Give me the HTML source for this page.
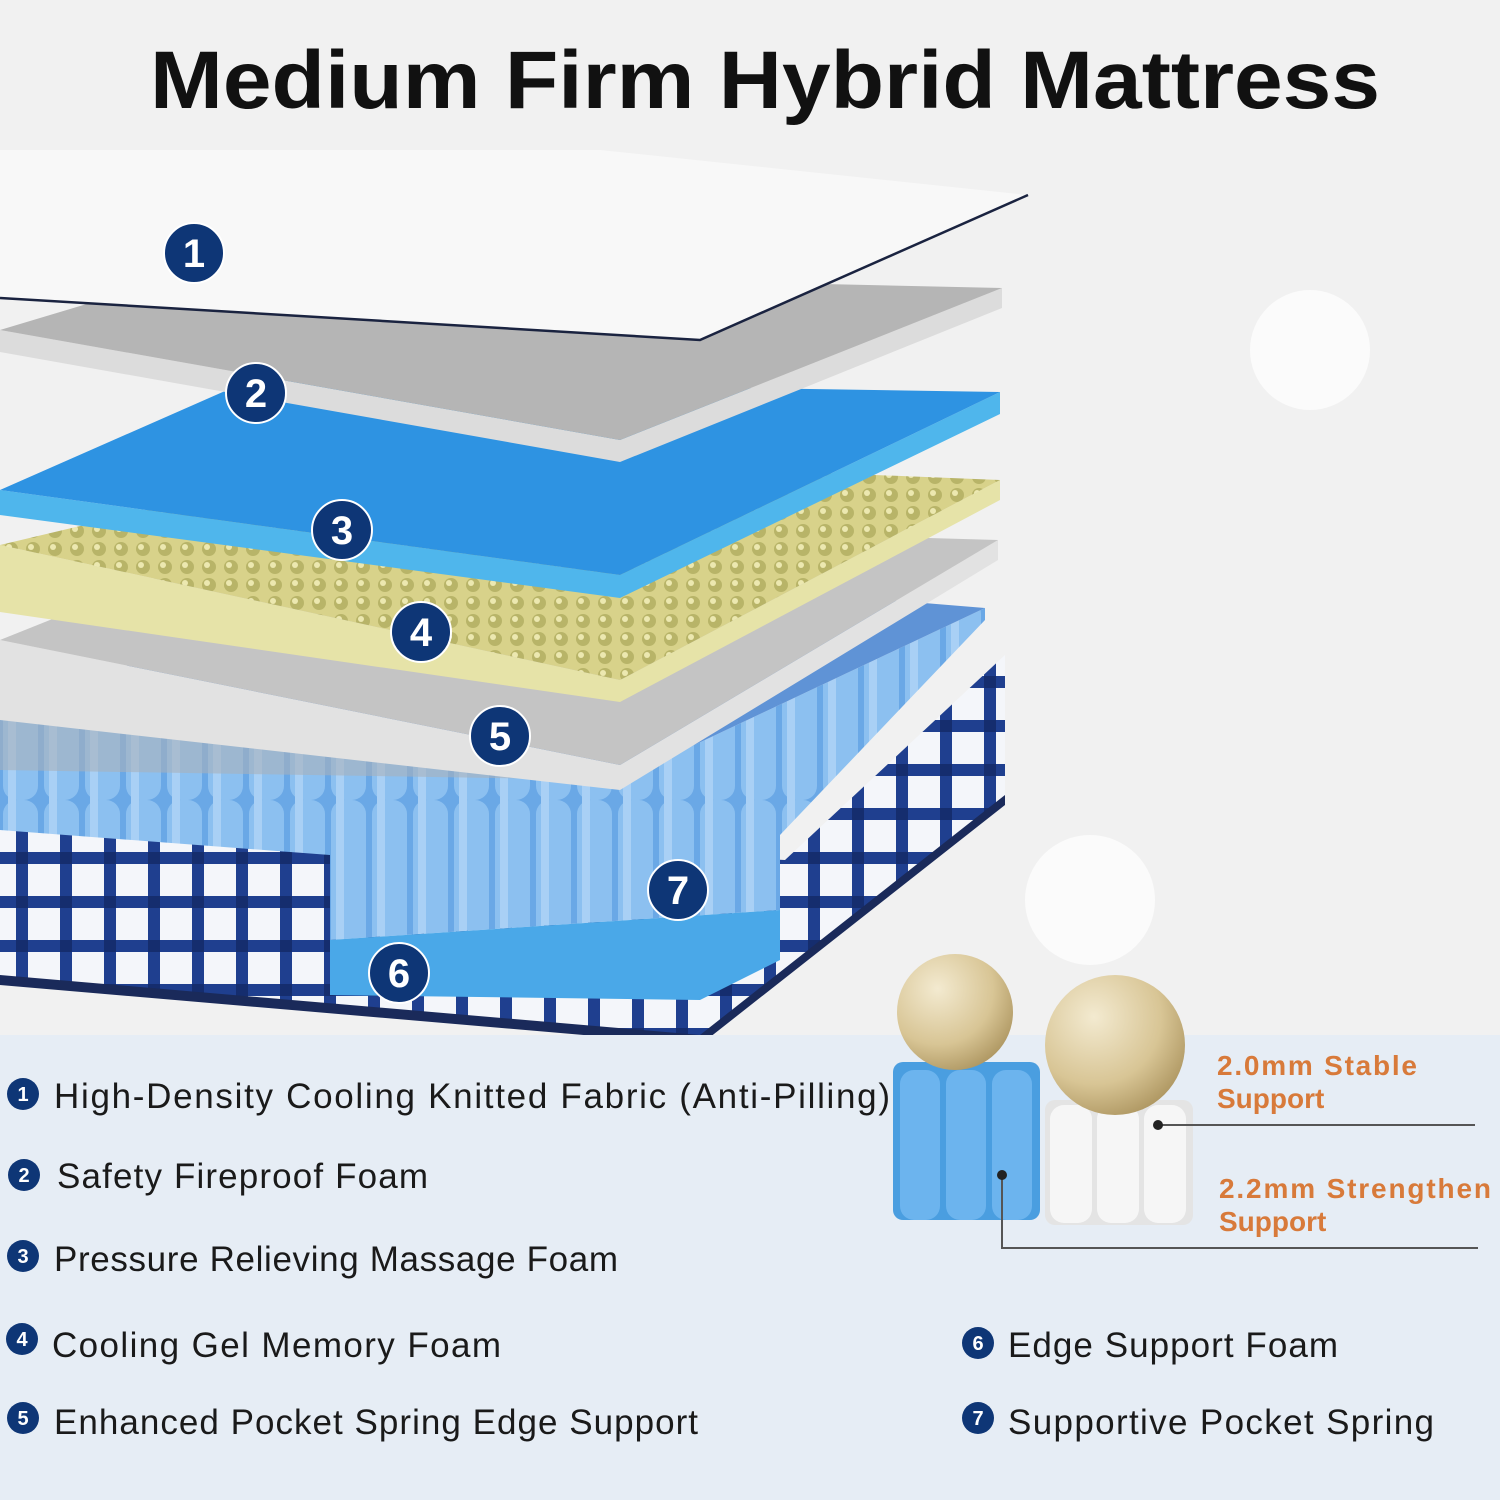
<!DOCTYPE html>
<html><head><meta charset="utf-8"><style>
html,body{margin:0;padding:0;background:#f2f2f2}
svg{display:block}
text{font-family:"Liberation Sans",sans-serif}
</style></head><body>
<svg width="1500" height="1500" viewBox="0 0 1500 1500" xmlns="http://www.w3.org/2000/svg">
<defs>
<pattern id="check" width="44" height="44" patternUnits="userSpaceOnUse">
<rect width="44" height="44" fill="#f4f6fa"/>
<rect width="44" height="12" y="16" fill="#1f3f8f"/>
<rect width="12" height="44" x="16" fill="#1f3f8f"/>
<rect width="12" height="12" x="16" y="16" fill="#152d6e"/>
</pattern>
<pattern id="spring" width="41" height="200" patternUnits="userSpaceOnUse">
<rect width="41" height="200" fill="#6aa8e6"/>
<rect x="3" width="35" height="200" rx="14" fill="#8cc0f0"/>
<rect x="8" width="8" height="200" fill="#a9d0f5"/>
</pattern>
<pattern id="egg" width="22" height="18" patternUnits="userSpaceOnUse">
<rect width="22" height="18" fill="#d8d28a"/>
<circle cx="11" cy="9" r="7" fill="#b8b468"/>
<circle cx="9" cy="7" r="3" fill="#ece8b0"/>
</pattern>
<radialGradient id="ball" cx="0.35" cy="0.3" r="0.8">
<stop offset="0" stop-color="#f3ead0"/><stop offset="0.6" stop-color="#d8c595"/><stop offset="1" stop-color="#a8905a"/>
</radialGradient>
</defs>
<rect width="1500" height="1500" fill="#f1f1f1"/>
<circle cx="1310" cy="350" r="60" fill="#fbfbfb"/>
<circle cx="1090" cy="900" r="65" fill="#fbfbfb"/>
<text x="765" y="108" text-anchor="middle" font-size="82" font-weight="bold" fill="#111" textLength="1230" lengthAdjust="spacingAndGlyphs">Medium Firm Hybrid Mattress</text>

<!-- base checkered -->
<polygon points="0,820 785,860 1005,655 1005,800 700,1040 0,980" fill="url(#check)"/>
<polygon points="0,975 700,1035 1005,795 1005,805 700,1045 0,985" fill="#1a2a5a"/>
<!-- springs -->
<polygon points="0,715 0,830 330,855 330,940 780,910 780,835 985,620 985,608 620,780" fill="url(#spring)"/>
<polygon points="0,715 620,780 985,608 400,560" fill="#5f93d6"/>
<polygon points="0,720 330,740 620,780 0,770" fill="#a8b0bb" opacity="0.6"/>
<!-- edge foam 6 -->
<polygon points="330,940 780,910 780,960 700,1000 330,995" fill="#4aa8e8"/>
<!-- layer 5 gray -->
<polygon points="0,640 620,765 998,540 998,560 620,790 0,720" fill="#e2e2e2"/>
<polygon points="0,640 620,765 998,540 300,520" fill="#c4c4c4"/>
<!-- layer 4 egg -->
<polygon points="0,545 620,680 1000,480 1000,500 620,702 0,612" fill="#e6e3a8"/>
<polygon points="0,545 620,680 1000,480 380,455" fill="url(#egg)"/>
<!-- layer 3 blue -->
<polygon points="0,490 620,575 1000,392 1000,414 620,598 0,515" fill="#4fb6ec"/>
<polygon points="0,490 620,575 1000,392 250,380" fill="#2e93e2"/>
<!-- layer 2 gray -->
<polygon points="0,330 620,440 1002,288 1002,308 620,462 0,352" fill="#dcdcdc"/>
<polygon points="0,330 620,440 1002,288 200,270" fill="#b5b5b5"/>
<!-- layer 1 white -->
<polygon points="0,150 0,298 700,340 1028,195 600,150" fill="#f8f8f8"/>
<polyline points="0,298 700,340 1028,195" fill="none" stroke="#1a2340" stroke-width="2.5"/>

<g font-size="40" font-weight="bold" fill="#fff" text-anchor="middle">
<g><circle cx="194" cy="253" r="30" fill="#0e3676" stroke="#fff" stroke-width="2"/><text x="194" y="267">1</text></g>
<g><circle cx="256" cy="393" r="30" fill="#0e3676" stroke="#fff" stroke-width="2"/><text x="256" y="407">2</text></g>
<g><circle cx="342" cy="530" r="30" fill="#0e3676" stroke="#fff" stroke-width="2"/><text x="342" y="544">3</text></g>
<g><circle cx="421" cy="632" r="30" fill="#0e3676" stroke="#fff" stroke-width="2"/><text x="421" y="646">4</text></g>
<g><circle cx="500" cy="736" r="30" fill="#0e3676" stroke="#fff" stroke-width="2"/><text x="500" y="750">5</text></g>
<g><circle cx="399" cy="973" r="30" fill="#0e3676" stroke="#fff" stroke-width="2"/><text x="399" y="987">6</text></g>
<g><circle cx="678" cy="890" r="30" fill="#0e3676" stroke="#fff" stroke-width="2"/><text x="678" y="904">7</text></g>
</g>

<!-- bottom panel -->
<rect x="0" y="1035" width="1500" height="465" fill="#e6edf5"/>

<!-- spring illustration -->
<rect x="893" y="1062" width="147" height="158" rx="10" fill="#4a9ee0"/>
<rect x="900" y="1070" width="40" height="150" rx="14" fill="#6cb4ee"/>
<rect x="946" y="1070" width="40" height="150" rx="14" fill="#6cb4ee"/>
<rect x="992" y="1070" width="40" height="150" rx="14" fill="#6cb4ee"/>
<rect x="1045" y="1100" width="148" height="125" rx="10" fill="#e4e4e4"/>
<rect x="1050" y="1105" width="42" height="118" rx="14" fill="#f6f6f6"/>
<rect x="1097" y="1105" width="42" height="118" rx="14" fill="#f6f6f6"/>
<rect x="1144" y="1105" width="42" height="118" rx="14" fill="#f6f6f6"/>
<circle cx="955" cy="1012" r="58" fill="url(#ball)"/>
<circle cx="1115" cy="1045" r="70" fill="url(#ball)"/>
<g font-size="28" font-weight="bold" fill="#d87a3a">
<text x="1217" y="1075" textLength="200">2.0mm Stable</text><text x="1217" y="1108">Support</text>
<text x="1219" y="1198" textLength="272">2.2mm Strengthen</text><text x="1219" y="1231">Support</text>
</g>
<line x1="1158" y1="1125" x2="1475" y2="1125" stroke="#555" stroke-width="2"/>
<circle cx="1158" cy="1125" r="5" fill="#222"/>
<polyline points="1002,1175 1002,1248 1478,1248" fill="none" stroke="#555" stroke-width="2"/>
<circle cx="1002" cy="1175" r="5" fill="#222"/>

<g font-size="35" fill="#1a1a1a" lengthAdjust="spacingAndGlyphs">
<text x="54" y="1108" textLength="836">High-Density Cooling Knitted Fabric (Anti-Pilling)</text>
<text x="57" y="1188" textLength="371">Safety Fireproof Foam</text>
<text x="54" y="1271" textLength="564">Pressure Relieving Massage Foam</text>
<text x="52" y="1357" textLength="449">Cooling Gel Memory Foam</text>
<text x="54" y="1434" textLength="644">Enhanced Pocket Spring Edge Support</text>
<text x="1008" y="1357" textLength="330">Edge Support Foam</text>
<text x="1008" y="1434" textLength="426">Supportive Pocket Spring</text>
</g>
<g font-size="20" font-weight="bold" fill="#fff" text-anchor="middle">
<circle cx="23" cy="1094" r="16" fill="#0e3676"/><text x="23" y="1101">1</text>
<circle cx="24" cy="1175" r="16" fill="#0e3676"/><text x="24" y="1182">2</text>
<circle cx="23" cy="1256" r="16" fill="#0e3676"/><text x="23" y="1263">3</text>
<circle cx="22" cy="1339" r="16" fill="#0e3676"/><text x="22" y="1346">4</text>
<circle cx="23" cy="1418" r="16" fill="#0e3676"/><text x="23" y="1425">5</text>
<circle cx="978" cy="1343" r="16" fill="#0e3676"/><text x="978" y="1350">6</text>
<circle cx="978" cy="1418" r="16" fill="#0e3676"/><text x="978" y="1425">7</text>
</g>
</svg>
</body></html>
